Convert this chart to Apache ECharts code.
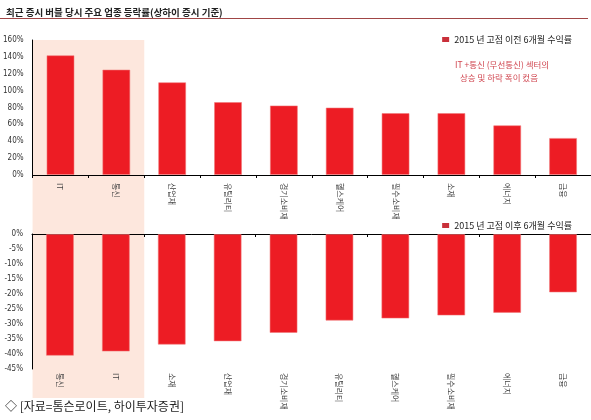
<!DOCTYPE html>
<html>
  <head>
    <meta charset="utf-8" />
    <title>최근 증시 버블 당시 주요 업종 등락률</title>
    <script src="https://cdn.jsdelivr.net/npm/echarts@6/dist/echarts.min.js"></script>
    <style>
      html, body { margin: 0; padding: 0; background: #fff; }
    </style>
  </head>
  <body>
    <div id="chart" style="width: 591px; height: 420px"></div>

    <script type="text/javascript">
// Before the 2015 peak (6 months), %
const before_names = ['IT', '통신', '산업재', '유틸리티', '경기소비재', '헬스케어', '필수소비재', '소재', '에너지', '금융'];
const before_values = [142, 125, 110, 86.5, 82.5, 80, 73.5, 73.5, 59, 44];

// After the 2015 peak (6 months), %
const after_names = ['통신', 'IT', '소재', '산업재', '경기소비재', '유틸리티', '헬스케어', '필수소비재', '에너지', '금융'];
const after_values = [-40.6, -39.2, -36.9, -35.8, -33, -28.9, -28.2, -27.2, -26.3, -19.5];

const before_label = '2015 년 고점 이전 6개월 수익률';
const after_label = '2015 년 고점 이후 6개월 수익률';
const note_lines = ['IT +통신 (무선통신) 섹터의', '상승 및 하락 폭이 컸음'];

const num_font = "'Liberation Sans Narrow', 'DejaVu Sans Condensed', sans-serif";
const kr_font = "'Noto Sans CJK KR', sans-serif";
const bar_red = '#ED1C24';

const bar_style = {
  color: bar_red,
  borderColor: 'rgba(240, 120, 120, 0.55)',
  borderWidth: 1
};

const cat_label = {
  rotate: -90,
  fontSize: 8,
  color: '#444',
  fontFamily: kr_font
};

const value_label = {
  fontSize: 8,
  color: '#333',
  fontFamily: num_font,
  margin: 9,
  formatter: '{value}%'
};

const legend_common = {
  right: 14,
  itemWidth: 7,
  itemHeight: 5,
  itemGap: 4,
  icon: 'rect',
  textStyle: { fontSize: 9, color: '#222', fontFamily: kr_font },
  itemStyle: { color: '#C9303A', borderWidth: 0 }
};

const option = {
  animation: false,
  title: {
    text: '최근 증시 버블 당시 주요 업종 등락률(상하이 증시 기준)',
    left: 1,
    top: 3,
    textStyle: { fontSize: 9.5, fontWeight: 'bold', color: '#222', fontFamily: kr_font }
  },
  legend: [
    Object.assign({ top: 30, data: [before_label] }, legend_common),
    Object.assign({ top: 216, data: [after_label] }, legend_common)
  ],
  grid: [
    { left: 32, right: -5, top: 40, height: 135 },
    { left: 32, right: -5, top: 234, height: 135 }
  ],
  xAxis: [
    {
      type: 'category',
      gridIndex: 0,
      data: before_names,
      axisLine: { lineStyle: { color: '#000', width: 1 } },
      axisTick: { show: true, length: 3, lineStyle: { color: '#000' } },
      axisLabel: Object.assign({ margin: 8, interval: 0 }, cat_label)
    },
    {
      type: 'category',
      gridIndex: 1,
      position: 'top',
      data: after_names,
      axisLine: { onZero: false, lineStyle: { color: '#000', width: 1 } },
      axisTick: { show: true, inside: true, length: 3, lineStyle: { color: '#000' } },
      axisLabel: { show: false }
    },
    {
      type: 'category',
      gridIndex: 1,
      position: 'bottom',
      data: after_names,
      axisLine: { show: false },
      axisTick: { show: false },
      axisLabel: Object.assign({ margin: 4, interval: 0 }, cat_label)
    }
  ],
  yAxis: [
    {
      type: 'value',
      gridIndex: 0,
      min: 0,
      max: 160,
      interval: 20,
      axisLine: { show: true, lineStyle: { color: '#000' } },
      axisTick: { show: false },
      splitLine: { show: false },
      axisLabel: value_label
    },
    {
      type: 'value',
      gridIndex: 1,
      min: -45,
      max: 0,
      interval: 5,
      axisLine: { show: true, lineStyle: { color: '#000' } },
      axisTick: { show: false },
      splitLine: { show: false },
      axisLabel: value_label
    }
  ],
  graphic: [
    {
      type: 'line',
      id: 'title_rule',
      shape: { x1: 0, y1: 18.5, x2: 588, y2: 18.5 },
      style: { stroke: '#A04545', lineWidth: 1 }
    },
    {
      type: 'text',
      id: 'note1',
      left: 455,
      top: 61,
      style: { text: note_lines[0], fontSize: 8.5, fill: '#D04650', fontFamily: kr_font }
    },
    {
      type: 'text',
      id: 'note2',
      left: 460,
      top: 74,
      style: { text: note_lines[1], fontSize: 8.5, fill: '#D04650', fontFamily: kr_font }
    },
    {
      type: 'text',
      id: 'source',
      left: 5,
      top: 400,
      style: { text: '◇ [자료=톰슨로이트, 하이투자증권]', fontSize: 12, fill: '#222', fontFamily: kr_font }
    }
  ],
  series: [
    {
      name: before_label,
      type: 'bar',
      xAxisIndex: 0,
      yAxisIndex: 0,
      barWidth: 28,
      itemStyle: bar_style,
      data: before_values
    },
    {
      name: after_label,
      type: 'bar',
      xAxisIndex: 1,
      yAxisIndex: 1,
      barWidth: 28,
      itemStyle: bar_style,
      data: after_values
    }
  ]
};

const chart = echarts.init(document.getElementById('chart'));
chart.setOption(option);

// Peach band behind the first two sectors, through both panels.
const c0 = chart.convertToPixel({ xAxisIndex: 0 }, before_names[0]);
const c1 = chart.convertToPixel({ xAxisIndex: 0 }, before_names[1]);
const step = c1 - c0;
const band_top = chart.convertToPixel({ yAxisIndex: 0 }, 160);
chart.setOption({
  graphic: [
    {
      type: 'rect',
      id: 'band',
      z: -10,
      shape: { x: c0 - step / 2, y: band_top, width: step * 2, height: 398 - band_top },
      style: { fill: '#FDE7DD' }
    }
  ]
});
    </script>
  </body>
</html>
